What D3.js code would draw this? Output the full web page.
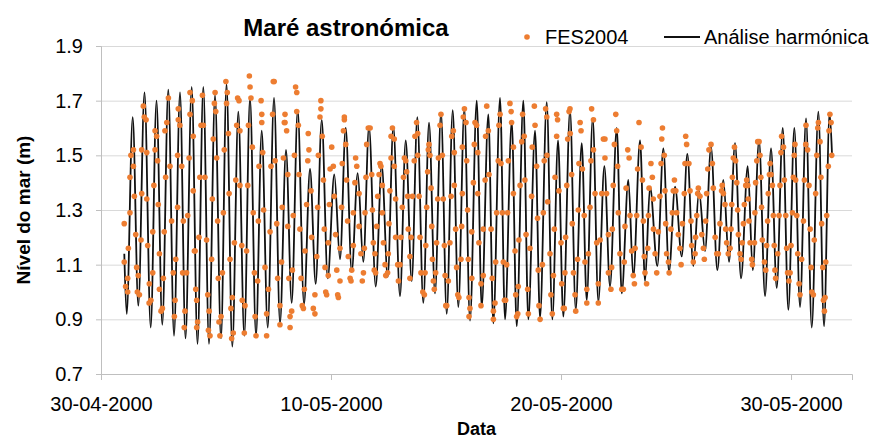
<!DOCTYPE html>
<html>
<head>
<meta charset="utf-8">
<script src="https://cdn.jsdelivr.net/npm/d3@7"></script>
<style>
  html, body { margin: 0; padding: 0; background: #fff; overflow: hidden; }
  svg { display: block; }
  text { font-family: "Liberation Sans", Arial, sans-serif; fill: #000; }
</style>
</head>
<body>
<svg id="chart" width="883" height="441"></svg>
<script>
  // days counted from 30-04-2000 00:00, level in metres
  const yTicks = [0.7, 0.9, 1.1, 1.3, 1.5, 1.7, 1.9];
  const xTickDays = [0, 10, 20, 30];
  const axisEndDay = 32.65;

  // Análise harmónica: successive high / low waters
  const harmonicPoints = [
    [1.013,1.14],[1.117,0.92],[1.378,1.64],[1.622,0.95],[1.891,1.73],[2.161,0.87],[2.413,1.70],[2.665,0.88],
    [2.926,1.74],[3.174,0.84],[3.435,1.73],[3.674,0.83],[3.943,1.75],[4.196,0.81],[4.448,1.75],[4.696,0.81],
    [4.957,1.72],[5.217,0.83],[5.457,1.76],[5.709,0.80],[5.970,1.66],[6.230,0.84],[6.478,1.71],[6.739,0.84],
    [6.987,1.59],[7.248,0.87],[7.522,1.71],[7.783,0.885],[8.043,1.52],[8.291,0.96],[8.552,1.665],[8.826,0.955],
    [9.087,1.45],[9.335,1.03],[9.596,1.63],[9.857,1.05],[10.143,1.43],[10.391,1.12],[10.639,1.60],[10.9,1.075],
    [11.161,1.435],[11.404,1.11],[11.652,1.605],[11.943,1.02],[12.204,1.465],[12.465,1.055],[12.709,1.605],[13.0,0.985],
    [13.248,1.555],[13.509,1.04],[13.752,1.64],[14.013,0.96],[14.261,1.62],[14.522,0.995],[14.783,1.655],[15.030,0.92],
    [15.291,1.665],[15.535,0.945],[15.796,1.67],[16.043,0.895],[16.335,1.70],[16.552,0.945],[16.839,1.65],[17.057,0.885],
    [17.348,1.71],[17.565,0.90],[17.857,1.625],[18.074,0.875],[18.361,1.70],[18.578,0.90],[18.870,1.59],[19.087,0.905],
    [19.378,1.695],[19.622,0.90],[19.870,1.555],[20.1,0.91],[20.391,1.665],[20.639,0.935],[20.9,1.545],[21.117,0.97],
    [21.378,1.635],[21.622,0.965],[21.883,1.46],[22.130,1.02],[22.422,1.60],[22.639,0.995],[22.926,1.41],[23.143,1.055],
    [23.435,1.555],[23.652,1.04],[23.870,1.385],[24.187,1.095],[24.448,1.525],[24.696,1.075],[24.957,1.385],[25.248,1.13],
    [25.491,1.505],[25.752,1.095],[26.0,1.37],[26.261,1.15],[26.522,1.53],[26.796,1.08],[27.057,1.41],[27.304,1.11],
    [27.565,1.545],[27.826,1.05],[28.117,1.46],[28.335,1.08],[28.609,1.555],[28.870,0.985],[29.130,1.525],[29.378,1.015],
    [29.639,1.60],[29.883,0.935],[30.143,1.60],[30.391,0.945],[30.652,1.635],[30.9,0.87],[31.187,1.66],[31.435,0.875],
    [31.674,1.655],[31.783,1.50]
  ];

  // FES2004: points
  const fesPoints = [
    [1.01,1.25],[1.01,1.11],[1.16,1.05],[1.07,1.02],[1.16,1.00],[1.19,1.16],[1.26,1.29],[1.26,1.42],[1.30,1.50],[1.41,1.52],
    [1.41,1.46],[1.45,1.35],[1.51,1.21],[1.55,1.09],[1.62,1.06],[1.58,1.00],[1.67,0.99],[1.74,1.19],[1.77,1.36],[1.77,1.52],
    [1.84,1.68],[1.88,1.64],[1.96,1.63],[1.99,1.51],[1.99,1.34],[2.03,1.17],[2.10,1.03],[2.25,1.07],[2.09,0.96],[2.17,0.97],
    [2.25,1.22],[2.30,1.39],[2.35,1.52],[2.35,1.59],[2.42,1.57],[2.46,1.48],[2.49,1.32],[2.54,1.14],[2.54,1.01],[2.61,0.93],
    [2.67,0.94],[2.71,1.05],[2.75,1.22],[2.81,1.42],[2.78,1.59],[2.86,1.62],[2.93,1.71],[3.00,1.46],[3.07,1.26],[3.14,1.07],
    [3.22,0.97],[3.19,0.91],[3.25,1.12],[3.33,1.31],[3.33,1.50],[3.36,1.63],[3.43,1.61],[3.36,1.67],[3.51,1.46],[3.58,1.26],
    [3.55,1.07],[3.72,1.07],[3.65,0.93],[3.62,0.87],[3.77,1.28],[3.83,1.49],[3.87,1.65],[3.87,1.73],[3.97,1.70],[4.01,1.57],
    [4.01,1.37],[4.06,1.15],
    [4.09,1.15],[4.12,1.01],[4.16,0.97],[4.20,0.89],[4.16,0.87],[4.26,1.20],[4.30,1.42],[4.35,1.61],[4.41,1.72],[4.45,1.61],
    [4.52,1.42],[4.59,1.19],[4.64,0.99],[4.70,0.93],[4.67,0.86],[4.74,0.84],[4.81,1.12],[4.84,1.34],[4.88,1.56],[4.96,1.73],
    [4.93,1.69],[4.99,1.66],[5.03,1.49],[5.07,1.26],[5.10,1.05],[5.13,0.89],[5.17,0.84],[5.22,0.91],[5.28,1.07],[5.32,1.29],
    [5.36,1.52],[5.43,1.77],[5.49,1.73],[5.46,1.69],[5.54,1.58],[5.57,1.36],[5.61,1.12],[5.65,0.94],[5.68,0.83],[5.75,0.85],
    [5.71,0.98],[5.80,1.18],[5.86,1.41],[5.90,1.61],[5.94,1.71],[6.00,1.70],[6.04,1.59],[6.04,1.39],[6.12,1.17],[6.14,0.97],
    [6.23,0.85],[6.26,0.95],[6.33,1.15],[6.38,1.39],[6.41,1.61],[6.45,1.79],[6.48,1.75],[6.52,1.71],[6.58,1.53],[6.62,1.29],
    [6.67,1.07],[6.70,0.91],[6.74,0.84],[6.81,1.04],[6.84,1.26],[6.87,1.46],[6.96,1.70],[6.99,1.65],[6.99,1.62],[7.03,1.51],
    [7.07,1.30],[7.13,1.09],[7.20,0.92],[7.20,0.84],[7.28,1.01],[7.35,1.22],[7.39,1.46],[7.46,1.65],[7.49,1.77],[7.53,1.77],
    [7.57,1.48],[7.64,1.25],[7.68,1.05],[7.78,0.88],[7.78,0.95],[7.85,1.11],[7.88,1.31],[7.93,1.49],[7.97,1.62],
    [8.00,1.65],[8.00,1.62],[8.07,1.59],[8.12,1.43],[8.12,1.24],[8.17,1.05],[8.22,0.91],[8.22,0.87],[8.29,0.93],[8.32,1.08],
    [8.36,1.28],[8.41,1.50],[8.46,1.75],[8.51,1.73],[8.51,1.66],[8.58,1.61],[8.61,1.43],[8.65,1.23],[8.70,1.05],[8.75,0.95],
    [8.80,0.94],[8.84,1.01],[8.87,1.15],[8.94,1.32],[8.99,1.48],[9.01,1.58],[9.04,1.52],[9.13,1.37],[9.16,1.20],[9.23,0.94],
    [9.30,0.92],[9.30,0.99],[9.38,1.13],[9.42,1.31],[9.45,1.50],[9.52,1.64],[9.56,1.67],[9.56,1.70],[9.62,1.57],[9.67,1.41],
    [9.71,1.23],[9.74,1.09],[9.77,1.00],[9.81,0.99],[9.88,1.06],[9.88,1.18],[9.93,1.32],[9.96,1.45],[10.03,1.53],[10.10,1.46],
    [10.14,1.35],[10.20,1.21],[10.25,1.08],[10.29,0.99],[10.32,0.98],[10.39,1.04],[10.39,1.16],[10.46,1.31],[10.49,1.47],[10.54,1.59],
    [10.58,1.63],[10.58,1.64],[10.64,1.54],[10.68,1.41],[10.72,1.26],[10.75,1.13],[10.83,1.05],[10.87,1.04],[10.90,1.08],[10.97,1.17],
    [10.97,1.29],[11.04,1.40],[11.07,1.49],[11.12,1.46],[11.22,1.36],[11.22,1.24],[11.30,1.14],[11.36,1.04],[11.41,1.07],[11.45,1.16],
    [11.48,1.29],[11.52,1.42],[11.55,1.54],[11.62,1.60],[11.70,1.60],[11.77,1.43],[11.80,1.30],[11.84,1.18],[11.88,1.08],
    [11.91,1.14],[11.94,1.07],[11.99,1.24],[12.03,1.35],[12.09,1.43],[12.13,1.47],[12.17,1.46],[12.23,1.39],[12.23,1.29],[12.28,1.18],
    [12.35,1.10],[12.38,1.06],[12.46,1.07],[12.49,1.14],[12.52,1.25],[12.56,1.37],[12.61,1.49],[12.61,1.57],[12.67,1.60],[12.75,1.56],
    [12.75,1.46],[12.81,1.34],[12.81,1.20],[12.90,1.10],[12.93,1.04],[13.00,1.10],[13.04,1.20],[13.10,1.31],[13.15,1.42],[13.19,1.49],
    [13.25,1.48],[13.29,1.44],[13.33,1.35],[13.36,1.23],[13.43,1.13],[13.43,1.05],[13.48,1.20],[13.54,1.35],[13.62,1.48],[13.65,1.57],
    [13.72,1.62],[13.77,1.58],[13.77,1.50],[13.83,1.35],[13.87,1.20],[13.91,1.07],[13.99,1.00],[14.06,0.99],[14.09,1.07],[14.12,1.17],
    [14.16,1.31],[14.20,1.44],[14.23,1.52],[14.26,1.54],[14.30,1.50],[14.35,1.38],[14.38,1.24],[14.41,1.12],[14.45,1.04],[14.49,1.01],
    [14.55,1.07],[14.59,1.18],[14.64,1.34],[14.67,1.49],[14.74,1.61],[14.78,1.65],[14.84,1.50],[14.88,1.34],[14.93,1.17],[14.96,1.06],
    [14.99,0.95],[15.03,0.95],[15.10,1.04],[15.17,1.18],[15.22,1.35],[15.25,1.57],[15.32,1.59],[15.36,1.51],[15.36,1.39],[15.42,1.23],
    [15.46,1.09],[15.51,0.99],[15.56,0.98],[15.65,1.12],[15.68,1.24],[15.71,1.36],[15.71,1.53],[15.75,1.64],[15.80,1.67],
    [15.87,1.62],[15.90,1.48],[15.94,1.30],[15.97,1.12],[16.00,0.98],[16.04,0.94],[16.00,0.91],[16.12,1.05],[16.12,1.22],[16.19,1.40],
    [16.23,1.54],[16.26,1.62],[16.33,1.61],[16.38,1.51],[16.38,1.36],[16.43,1.18],[16.52,1.03],[16.52,0.95],[16.62,1.06],[16.62,1.23],
    [16.70,1.41],[16.72,1.57],[16.77,1.68],[16.84,1.59],[16.87,1.43],[16.96,1.23],[17.01,1.05],[17.06,0.93],[17.06,0.90],[17.13,0.96],
    [17.16,1.11],[17.20,1.29],[17.27,1.48],[17.30,1.61],[17.35,1.65],[17.39,1.47],[17.45,1.29],[17.49,1.11],[17.54,0.97],[17.59,0.97],
    [17.64,1.10],[17.68,1.29],[17.71,1.48],[17.78,1.69],[17.83,1.66],[17.85,1.62],[17.93,1.53],[17.93,1.36],[18.00,1.15],[18.03,0.99],
    [18.07,0.91],[18.12,0.92],[18.14,1.02],[18.17,1.19],[18.22,1.39],[18.29,1.55],[18.33,1.65],[18.40,1.57],[18.43,1.41],[18.48,1.21],
    [18.55,1.01],[18.58,0.92],[18.65,1.16],[18.72,1.35],[18.75,1.53],[18.84,1.68],[18.87,1.61],[18.94,1.46],[18.98,1.27],[19.01,1.08],
    [19.04,0.95],[19.09,0.90],[19.19,1.10],[19.23,1.29],[19.27,1.48],[19.33,1.67],[19.38,1.64],[19.39,1.50],[19.42,1.33],[19.52,1.14],
    [19.56,0.99],[19.62,0.92],[19.67,1.06],[19.71,1.23],
    [19.74,1.42],[19.81,1.65],[19.85,1.63],[19.81,1.57],[19.91,1.37],[20.00,1.18],[20.03,1.03],[20.10,0.94],[20.14,0.94],[20.17,1.07],
    [20.20,1.20],[20.25,1.39],[20.29,1.56],[20.35,1.66],[20.39,1.67],[20.40,1.58],[20.46,1.43],[20.49,1.25],[20.54,1.07],[20.61,0.99],
    [20.64,0.93],[20.72,1.12],[20.75,1.30],[20.78,1.47],[20.83,1.62],[20.87,1.59],[20.93,1.45],[21.01,1.28],[21.04,1.11],[21.12,1.01],
    [21.12,0.96],[21.19,1.14],[21.26,1.31],[21.30,1.48],[21.33,1.67],[21.41,1.63],[21.41,1.52],[21.48,1.36],[21.55,1.18],[21.62,1.03],
    [21.62,0.96],[21.70,1.19],[21.77,1.36],[21.84,1.56],[21.91,1.56],[21.91,1.49],[21.98,1.36],[22.06,1.21],[22.06,1.07],[22.17,1.01],
    [22.20,1.09],[22.23,1.23],[22.27,1.39],[22.32,1.54],[22.38,1.65],[22.42,1.59],[22.46,1.46],[22.49,1.29],[22.56,1.14],[22.64,1.01],
    [22.71,1.01],[22.75,1.11],[22.78,1.24],[22.83,1.38],[22.90,1.52],[22.96,1.49],[23.00,1.28],[23.07,1.15],[23.14,1.06],[23.19,1.03],
    [23.22,1.16],[23.29,1.28],[23.33,1.45],[23.39,1.62],[23.48,1.53],[23.54,1.41],[23.58,1.26],[23.62,1.13],
    [23.65,1.07],[23.72,1.03],[23.77,1.16],[23.80,1.28],[23.83,1.38],[23.91,1.47],[23.97,1.42],[24.01,1.34],[24.02,1.23],[24.09,1.14],
    [24.16,1.07],[24.23,1.22],[24.30,1.35],[24.35,1.47],[24.38,1.56],[24.41,1.60],[24.49,1.50],[24.52,1.37],[24.55,1.25],[24.59,1.14],
    [24.67,1.11],[24.70,1.07],[24.78,1.23],[24.84,1.29],[24.88,1.37],[24.93,1.41],[24.99,1.37],[25.03,1.29],[25.10,1.21],[25.17,1.16],
    [25.22,1.10],[25.28,1.25],[25.36,1.36],[25.39,1.47],[25.42,1.57],[25.46,1.54],[25.56,1.47],[25.61,1.37],[25.65,1.26],[25.68,1.17],
    [25.75,1.11],[25.83,1.14],[25.85,1.20],[25.90,1.28],[25.94,1.36],[25.97,1.38],[26.04,1.35],[26.12,1.21],[26.19,1.16],[26.23,1.12],
    [26.29,1.26],[26.33,1.36],[26.38,1.45],[26.43,1.52],[26.52,1.54],[26.58,1.47],[26.62,1.38],[26.70,1.20],[26.77,1.14],[26.84,1.14],
    [26.91,1.25],[26.98,1.37],[27.01,1.39],[27.06,1.36],[27.13,1.32],[27.16,1.23],[27.20,1.18],[27.27,1.14],[27.35,1.16],[27.39,1.23],
    [27.42,1.32],[27.45,1.42],[27.49,1.49],[27.54,1.53],
    [27.59,1.48],[27.64,1.40],[27.68,1.30],[27.71,1.21],[27.78,1.14],[27.83,1.12],[27.88,1.18],[27.93,1.25],[27.97,1.32],[28.03,1.39],
    [28.07,1.41],[28.12,1.39],[28.14,1.34],[28.17,1.26],[28.22,1.18],[28.29,1.12],[28.32,1.10],[28.41,1.18],[28.43,1.29],[28.46,1.40],
    [28.51,1.48],[28.55,1.55],[28.61,1.55],[28.65,1.50],[28.69,1.42],[28.72,1.31],[28.75,1.19],[28.84,1.11],[28.90,1.08],[28.94,1.17],
    [28.98,1.26],[29.01,1.36],[29.06,1.43],[29.09,1.47],[29.13,1.43],[29.19,1.39],[29.23,1.28],[29.27,1.17],[29.30,1.08],[29.33,1.05],
    [29.42,1.14],[29.48,1.28],[29.52,1.39],[29.56,1.51],[29.59,1.57],[29.67,1.53],[29.71,1.41],[29.77,1.28],[29.81,1.16],[29.85,1.07],
    [29.91,1.04],[29.96,1.07],[30.00,1.17],[30.06,1.29],[30.10,1.42],[30.14,1.50],[30.17,1.54],[30.20,1.41],[30.25,1.28],[30.29,1.14],
    [30.35,1.03],[30.39,0.99],[30.46,1.12],[30.54,1.26],[30.58,1.41],[30.64,1.54],[30.65,1.61],[30.72,1.52],[30.78,1.39],[30.83,1.23],
    [30.87,1.09],[30.90,1.00],[30.97,0.99],[31.01,1.19],[31.07,1.36],[31.12,1.50],[31.16,1.60],[31.19,1.62],[31.26,1.55],[31.30,1.42],
    [31.33,1.25],[31.38,1.09],[31.41,0.97],[31.45,0.93],[31.48,0.98],[31.51,1.11],[31.55,1.28],[31.62,1.46],[31.65,1.59],[31.69,1.65],
    [31.74,1.62],[31.77,1.50]
  ];

  const svg = d3.select('#chart');
  const width = +svg.attr('width');
  const height = +svg.attr('height');
  const margin = { top: 46, right: 31, bottom: 67, left: 101 };
  const innerWidth = width - margin.left - margin.right;
  const innerHeight = height - margin.top - margin.bottom;

  const startTime = Date.UTC(2000, 3, 30);
  const dayToDate = d => new Date(startTime + d * 864e5);

  const xScale = d3.scaleUtc()
    .domain([dayToDate(0), dayToDate(axisEndDay)])
    .range([0, innerWidth]);

  const yScale = d3.scaleLinear()
    .domain([0.7, 1.9])
    .range([innerHeight, 0]);

  const g = svg.append('g')
    .attr('transform', `translate(${margin.left},${margin.top})`);

  // horizontal gridlines
  const grid = g.append('g')
    .call(d3.axisLeft(yScale).tickValues(yTicks.slice(1)).tickSize(-innerWidth).tickFormat(''));
  grid.selectAll('.domain, .tick text').remove();
  grid.selectAll('.tick line').attr('stroke', '#d9d9d9');

  // y axis
  const yAxisG = g.append('g')
    .call(d3.axisLeft(yScale).tickValues(yTicks).tickFormat(d3.format('.1f')).tickSize(5).tickPadding(13));
  yAxisG.select('.domain').attr('stroke', '#bfbfbf');
  yAxisG.selectAll('.tick line').attr('stroke', '#bfbfbf');
  yAxisG.selectAll('.tick text').attr('font-size', 20);

  // x axis
  const xAxisG = g.append('g')
    .attr('transform', `translate(0,${innerHeight})`)
    .call(d3.axisBottom(xScale)
      .tickValues(xTickDays.map(dayToDate))
      .tickFormat(d3.utcFormat('%d-%m-%Y'))
      .tickSize(6)
      .tickPadding(17));
  xAxisG.select('.domain').attr('stroke', '#bfbfbf');
  xAxisG.selectAll('.tick line').attr('stroke', '#bfbfbf');
  xAxisG.selectAll('.tick text').attr('font-size', 20);

  // harmonic curve
  const line = d3.line()
    .x(d => xScale(dayToDate(d[0])))
    .y(d => yScale(d[1]))
    .curve(d3.curveMonotoneX);

  g.append('path')
    .datum(harmonicPoints)
    .attr('fill', 'none')
    .attr('stroke', '#111')
    .attr('stroke-width', 1.8)
    .attr('d', line);

  // FES2004 points
  g.append('g').selectAll('circle').data(fesPoints)
    .enter().append('circle')
      .attr('cx', d => xScale(dayToDate(d[0])))
      .attr('cy', d => yScale(d[1]))
      .attr('r', 2.8)
      .attr('fill', '#ed7d31');

  // titles
  svg.append('text')
    .attr('x', 346)
    .attr('y', 36)
    .attr('text-anchor', 'middle')
    .attr('font-size', 24)
    .attr('font-weight', 'bold')
    .text('Maré astronómica');

  svg.append('text')
    .attr('x', margin.left + innerWidth / 2)
    .attr('y', 435)
    .attr('text-anchor', 'middle')
    .attr('font-size', 18)
    .attr('font-weight', 'bold')
    .text('Data');

  svg.append('text')
    .attr('transform', `translate(30,${margin.top + innerHeight / 2}) rotate(-90)`)
    .attr('text-anchor', 'middle')
    .attr('font-size', 19)
    .attr('font-weight', 'bold')
    .text('Nível do mar (m)');

  // legend
  const legend = svg.append('g').attr('transform', 'translate(527,37)');
  legend.append('circle').attr('r', 2.8).attr('fill', '#ed7d31');
  legend.append('text').attr('x', 18).attr('y', 7).attr('font-size', 20).text('FES2004');
  legend.append('line')
    .attr('x1', 137).attr('x2', 173)
    .attr('stroke', '#111').attr('stroke-width', 1.8);
  legend.append('text').attr('x', 177).attr('y', 7).attr('font-size', 20).text('Análise harmónica');
</script>
</body>
</html>
